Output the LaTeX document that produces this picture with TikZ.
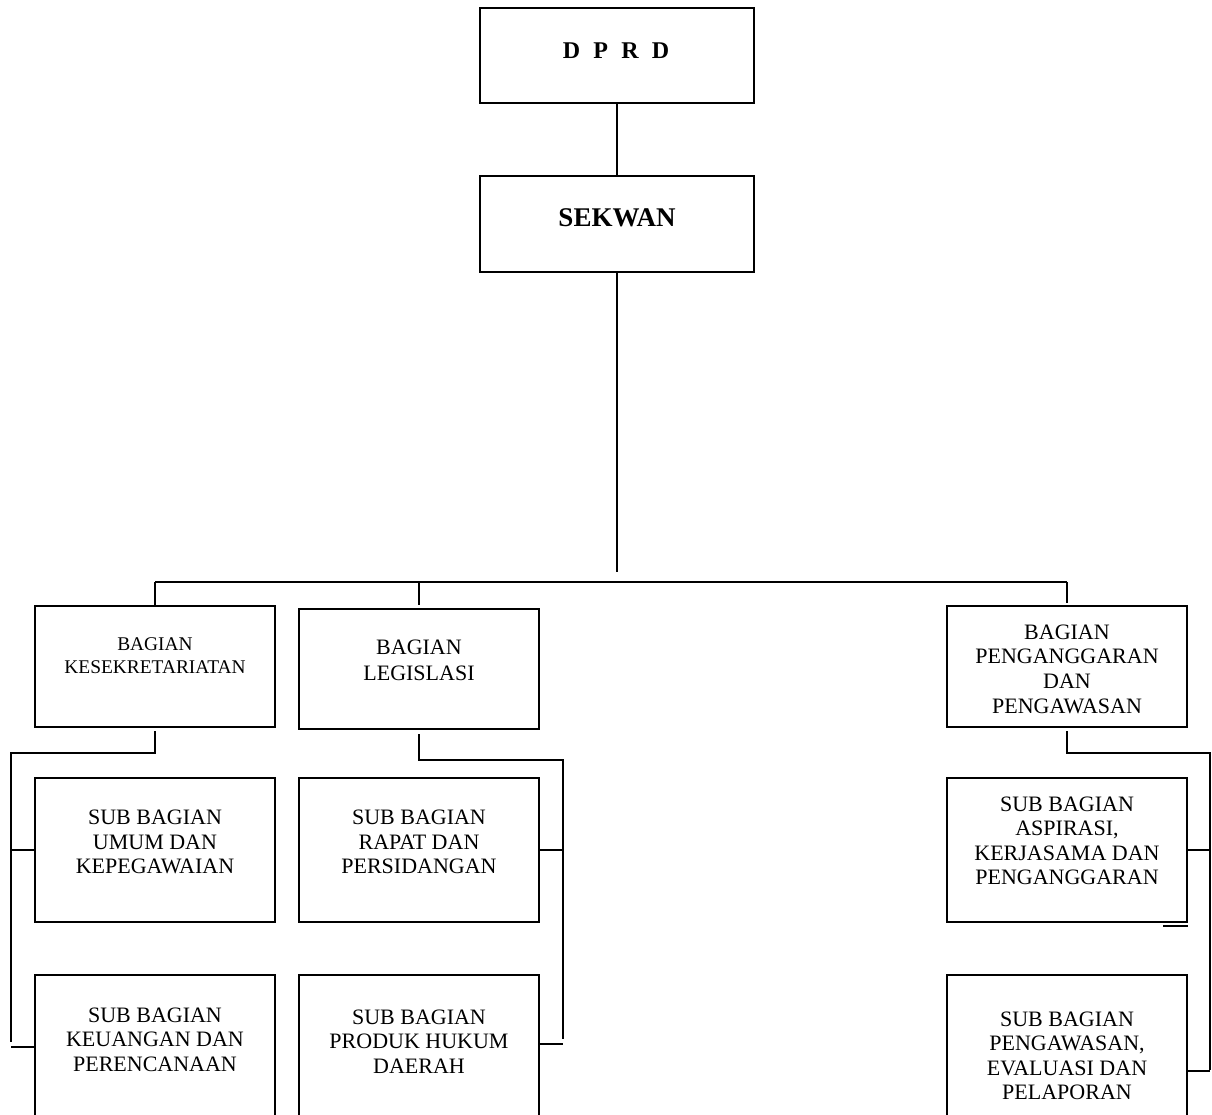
\documentclass[tikz,border=0pt]{standalone}
\usepackage{fontspec}
\setmainfont{Liberation Serif}
\begin{document}
\begin{tikzpicture}[x=0.5pt,y=-0.5pt,
  box/.style={draw, line width=1.3pt, inner sep=0pt, minimum width=120pt},
  con/.style={line width=1.3pt},
  txt/.style={align=center, inner sep=0pt, font=\fontsize{11}{12.25}\selectfont}]
\useasboundingbox (0,0) rectangle (1212,1115);
\clip (0,0) rectangle (1212,1115);

% top boxes
\node[box, minimum width=137pt, minimum height=47.5pt] (dprd) at (617,55.5) {};
\node[box, minimum width=137pt, minimum height=48pt] (sekwan) at (617,224) {};
\node[inner sep=0pt, font=\bfseries\fontsize{12}{14}\selectfont] (dprdt) at (616,51) {{\spaceskip=0.55em D P R D}};
\node[inner sep=0pt, font=\bfseries\fontsize{13.5}{15}\selectfont] (sekwant) at (617,218) {SEKWAN};

% bagian boxes
\node[box, minimum height=60.5pt] (kes) at (155,666.5) {};
\node[box, minimum height=60pt] (leg) at (419,669) {};
\node[box, minimum height=60.5pt] (peng) at (1067,666.5) {};

% sub bagian boxes
\node[box, minimum height=72pt] (umum) at (155,850) {};
\node[box, minimum height=72pt] (rapat) at (419,850) {};
\node[box, minimum height=72pt] (asp) at (1067,850) {};
\node[box, minimum height=80pt] (keu) at (155,1055) {};
\node[box, minimum height=80pt] (prod) at (419,1055) {};
\node[box, minimum height=80pt] (pengw) at (1067,1055) {};

% texts
\node[txt, font=\fontsize{9.7}{11.5}\selectfont] (kest) at (155,656) {BAGIAN\\KESEKRETARIATAN};
\node[txt, font=\fontsize{11}{13}\selectfont] (legt) at (419,660) {BAGIAN\\LEGISLASI};
\node[txt, font=\fontsize{11}{12.35}\selectfont] (pengt) at (1067,669) {BAGIAN\\PENGANGGARAN\\DAN\\PENGAWASAN};
\node[txt] (umumt) at (155,842) {SUB BAGIAN\\UMUM DAN\\KEPEGAWAIAN};
\node[txt] (rapatt) at (419,842) {SUB BAGIAN\\RAPAT DAN\\PERSIDANGAN};
\node[txt] (aspt) at (1067,841) {SUB BAGIAN\\ASPIRASI,\\KERJASAMA DAN\\PENGANGGARAN};
\node[txt] (keut) at (155,1039.5) {SUB BAGIAN\\KEUANGAN DAN\\PERENCANAAN};
\node[txt] (prodt) at (419,1041.5) {SUB BAGIAN\\PRODUK HUKUM\\DAERAH};
\node[txt] (pengwt) at (1067,1056) {SUB BAGIAN\\PENGAWASAN,\\EVALUASI DAN\\PELAPORAN};

% top connectors
\coordinate (mainEnd) at (617,572);
\coordinate (bus) at (0,582);
\draw[con] (dprd.south) -- (sekwan.north);
\draw[con] (sekwan.south) -- (mainEnd);
\draw[con] (kes.north |- bus) -- (peng.north |- bus);
\draw[con] (kes.north |- bus) -- (kes.north);
\draw[con] (leg.north |- bus) -- ([yshift=1.5pt]leg.north);
\draw[con] (peng.north |- bus) -- ([yshift=1pt]peng.north);

% left group
\coordinate (kL) at (11,753);
\coordinate (kLb) at (11,1042);
\coordinate (kS2) at (11,1047);
\draw[con] ([yshift=-1.5pt]kes.south) -- (kes.south |- kL) -- (kL) -- (kLb);
\draw[con] (kL |- umum.west) -- (umum.west);
\draw[con] (kS2) -- (kS2 -| keu.west);

% middle group
\coordinate (lR) at (563,760);
\coordinate (lRb) at (563,1039);
\coordinate (lS2) at (563,1044);
\draw[con] ([yshift=-2pt]leg.south) -- (leg.south |- lR) -- (lR) -- (lRb);
\draw[con] (rapat.east) -- (rapat.east -| lR);
\draw[con] (lS2 -| prod.east) -- (lS2);

% right group
\coordinate (pR) at (1210,753);
\coordinate (pRb) at (1210,1070);
\coordinate (pS2) at (1210,1071);
\draw[con] ([yshift=-1.5pt]peng.south) -- (peng.south |- pR) -- (pR) -- (pRb);
\draw[con] (asp.east) -- (asp.east -| pR);
\draw[con] (pS2 -| pengw.east) -- (pS2);
\coordinate (stray) at (1163,926);
\draw[con] (stray) -- (stray -| asp.east);
\end{tikzpicture}
\end{document}
